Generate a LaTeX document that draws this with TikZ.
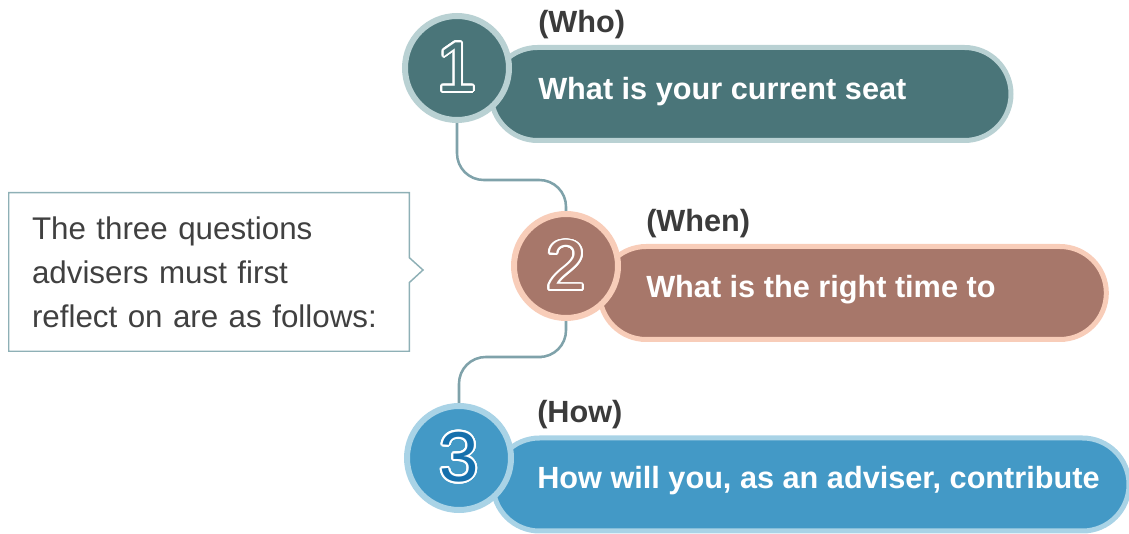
\documentclass[tikz,border=0pt]{standalone}
\usepackage{fontspec}
\setmainfont{Liberation Sans}
\usepackage{contour}
\usetikzlibrary{shapes.misc,shapes.callouts,backgrounds}

\definecolor{whofill}{HTML}{4A7579}
\definecolor{whoedge}{HTML}{B9D1D3}
\definecolor{whenfill}{HTML}{A7776A}
\definecolor{whenedge}{HTML}{F8CDB9}
\definecolor{howfill}{HTML}{4399C6}
\definecolor{howedge}{HTML}{A9D3E6}
\definecolor{howdigit}{HTML}{1670AC}
\definecolor{linkgray}{HTML}{7FA2AA}
\definecolor{taggray}{HTML}{3B3B3B}
\definecolor{notegray}{HTML}{404040}
\definecolor{noteedge}{HTML}{8EB0B6}

\contourlength{1.3pt}
\contournumber{24}

\begin{document}
\begin{tikzpicture}[x=0.75pt,y=-0.75pt]
    \tikzstyle{num}=[circle, line width=4.5pt, minimum size=78pt, inner sep=0pt, font=\fontsize{53}{53}\selectfont]
    \tikzstyle{pill}=[rounded rectangle, line width=3.75pt, minimum height=69.75pt, inner sep=0pt]
    \tikzstyle{tag}=[anchor=base west, inner sep=0pt, text=taggray, font=\bfseries\fontsize{23}{23}\selectfont]
    \tikzstyle{ask}=[anchor=base west, inner sep=0pt, text=white, font=\bfseries\fontsize{23}{23}\selectfont]
    \tikzstyle{link}=[draw=linkgray, line width=1.9pt, rounded corners=20pt]
    \useasboundingbox (0,0) rectangle (1129,534);

    % bars with the questions
    \node[pill, fill=whofill, draw=whoedge, minimum width=390pt] (bar1) at (751,94) {};
    \node[pill, fill=whenfill, draw=whenedge, minimum width=380pt] (bar2) at (853,293) {};
    \node[pill, fill=howfill, draw=howedge, minimum width=477pt] (bar3) at (811,484.5) {};

    % numbered discs
    \node[num, fill=whofill, draw=whoedge] (c1) at (457,68) {\contour{white}{\textcolor{whofill}{1}}};
    \node[num, fill=whenfill, draw=whenedge] (c2) at (566,266) {\contour{white}{\textcolor{whenfill}{2}}};
    \node[num, fill=howfill, draw=howedge] (c3) at (459,458) {\contour{white}{\textcolor{howdigit}{3}}};

    \node[tag] (who) at (538,33) {(Who)};
    \node[ask] (q1) at (538,100) {What is your current seat};
    \node[tag] (when) at (646,232) {(When)};
    \node[ask] (q2) at (646,298) {What is the right time to};
    \node[tag] (how) at (537,423) {(How)};
    \node[ask] (q3) at (537,489) {How will you, as an adviser, contribute};

    % intro box
    \node[rectangle callout, draw=noteedge, line width=1.1pt, fill=white,
          minimum width=300.4pt, minimum height=118.9pt,
          callout absolute pointer={(423,270)}, callout pointer width=18.75pt,
          text width=265.5pt, align=left, text=notegray,
          font=\fontsize{23.5}{33}\selectfont] (note) at (209,272)
          {The three questions\\advisers must first\\reflect on are as follows:};

    % lines between the discs
    \begin{scope}[on background layer]
        \coordinate (k1) at (510,180);
        \coordinate (k2) at (515,357);
        \draw[link] (c1.south) |- (k1) -| (c2.north);
        \draw[link] (c2.south) |- (k2) -| (c3.north);
    \end{scope}
\end{tikzpicture}
\end{document}
